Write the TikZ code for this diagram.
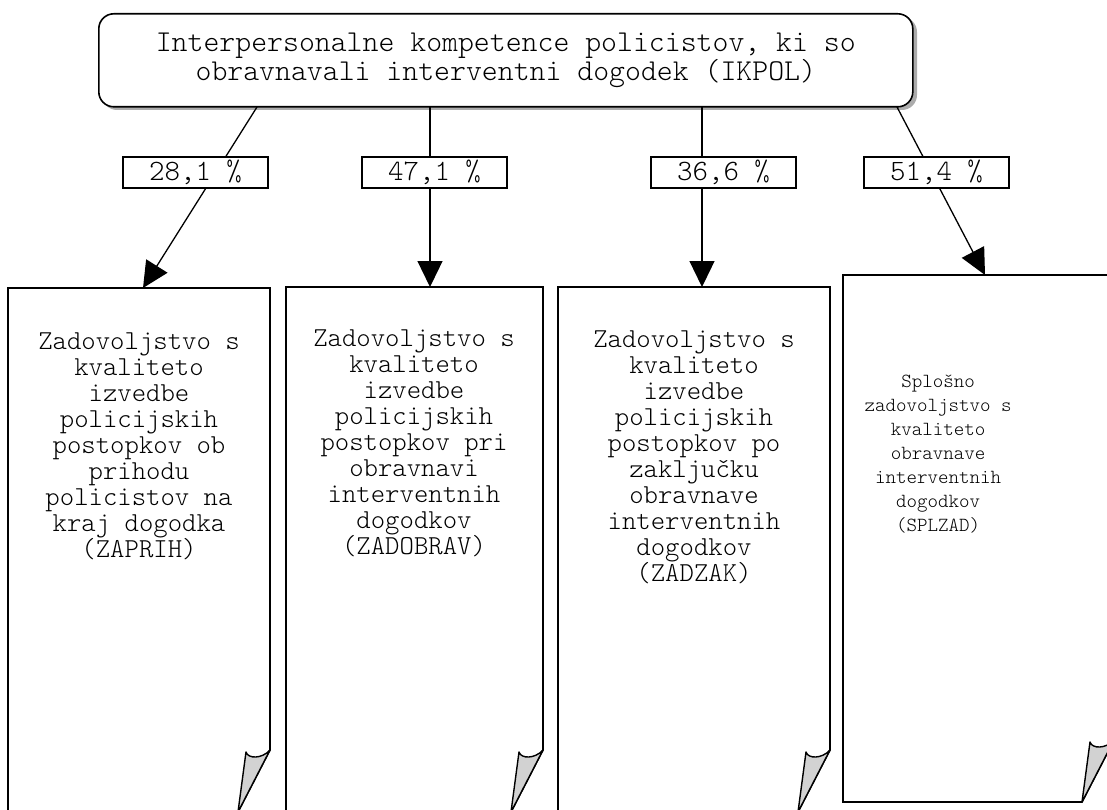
\documentclass[tikz,border=0pt]{standalone}
\usepackage{fontspec}
\setmonofont{Latin Modern Mono Light}
\usetikzlibrary{arrows.meta}
\newcommand\pagebox[4]{%
  \draw[pageline] (#1,#2) -- (#3,#2) -- (#3,#4-62) -- (#3-32,#4) -- (#1,#4) -- cycle;
  \draw[flapline] (#3-32,#4) -- (#3-24,#4-60) .. controls (#3-22,#4-53) and (#3-8,#4-53) .. (#3,#4-62) -- cycle;}
\begin{document}
\begin{tikzpicture}[x=1pt,y=-1pt,
  boxtext/.style={font=\ttfamily\fontsize{27.4}{26}\selectfont, align=center, inner sep=0pt},
  smalltext/.style={font=\ttfamily\fontsize{20}{24}\selectfont, align=center, inner sep=0pt},
  lbl/.style={draw, line width=1.4pt, fill=white, minimum width=145pt, minimum height=31pt, inner sep=0pt, font=\ttfamily\fontsize{29.5}{30}\selectfont},
  conn/.style={line width=1.3pt, -{Triangle[length=26pt,width=25pt]}},
  pageline/.style={draw, line width=1.6pt, line join=miter},
  flapline/.style={draw, line width=1.4pt, fill=gray!35, line join=round}]
\useasboundingbox (0,0) rectangle (1107,810);
\clip (0,0) rectangle (1107,810);
% top box
\fill[gray!65, rounded corners=15pt] (102,17) rectangle (917,110);
\node[draw, line width=1.6pt, fill=white, rounded corners=15pt, minimum width=814pt, minimum height=93pt, anchor=north west, inner sep=0pt, align=center, font=\ttfamily\fontsize{30.3}{26}\selectfont] (top) at (98,13) {Interpersonalne kompetence policistov, ki so\\obravnavali interventni dogodek (IKPOL)};
% start / end points
\coordinate (s1) at (257,107);
\coordinate (s2) at (430,107);
\coordinate (s3) at (702,107);
\coordinate (s4) at (897,107);
\coordinate (t1) at (143,288);
\coordinate (t2) at (430,287);
\coordinate (t3) at (702,287);
\coordinate (t4) at (985,275);
\draw[conn] (s1) -- (t1);
\draw[conn] (s2) -- (t2);
\draw[conn] (s3) -- (t3);
\draw[conn] (s4) -- (t4);
% labels
\node[lbl] (l1) at (195.5,172.5) {28,1 \%};
\node[lbl] (l2) at (434.5,172.5) {47,1 \%};
\node[lbl] (l3) at (723.5,172.5) {36,6 \%};
\node[lbl] (l4) at (936.5,172.5) {51,4 \%};
% page boxes
\pagebox{8}{288}{270}{812}
\pagebox{286}{287}{543}{812}
\pagebox{558}{287}{830}{812}
\pagebox{843}{275}{1114}{802}
% texts
\node[boxtext] (b1) at (139,446) {Zadovoljstvo s\\kvaliteto\\izvedbe\\policijskih\\postopkov ob\\prihodu\\policistov na\\kraj dogodka\\(ZAPRIH)};
\node[boxtext] (b2) at (414,443) {Zadovoljstvo s\\kvaliteto\\izvedbe\\policijskih\\postopkov pri\\obravnavi\\interventnih\\dogodkov\\(ZADOBRAV)};
\node[boxtext] (b3) at (694,457) {Zadovoljstvo s\\kvaliteto\\izvedbe\\policijskih\\postopkov po\\zaključku\\obravnave\\interventnih\\dogodkov\\(ZADZAK)};
\node[smalltext] (b4) at (938,454) {Splošno\\zadovoljstvo s\\kvaliteto\\obravnave\\interventnih\\dogodkov\\(SPLZAD)};
\end{tikzpicture}
\end{document}
